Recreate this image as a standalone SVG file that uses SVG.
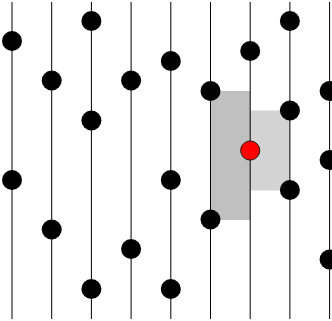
<svg xmlns="http://www.w3.org/2000/svg" width="332" height="321" viewBox="0 0 332 321">
<style>
.ln{stroke:#000;stroke-width:1}
.dot{fill:#000}
.red{fill:#ff0000;stroke:#000;stroke-width:0.8}
</style>
<rect x="210.5" y="91" width="39.7" height="129" fill="#c0c0c0"/>
<rect x="250.2" y="110.5" width="39.7" height="80" fill="#d3d3d3"/>
<g id="connectors">
<line class="ln" x1="12" y1="2" x2="12" y2="319"/>
<line class="ln" x1="51.7" y1="2" x2="51.7" y2="319"/>
<line class="ln" x1="91.4" y1="2" x2="91.4" y2="319"/>
<line class="ln" x1="131.1" y1="2" x2="131.1" y2="319"/>
<line class="ln" x1="170.8" y1="2" x2="170.8" y2="319"/>
<line class="ln" x1="210.5" y1="2" x2="210.5" y2="319"/>
<line class="ln" x1="250.2" y1="2" x2="250.2" y2="319"/>
<line class="ln" x1="289.9" y1="2" x2="289.9" y2="319"/>
<line class="ln" x1="329.6" y1="2" x2="329.6" y2="319"/>
</g>
<g id="n1"><circle class="dot" cx="12" cy="41" r="10"/></g>
<g id="n2"><circle class="dot" cx="12" cy="180" r="10"/></g>
<g id="n3"><circle class="dot" cx="51.7" cy="80.5" r="10"/></g>
<g id="n4"><circle class="dot" cx="51.7" cy="229.5" r="10"/></g>
<g id="n5"><circle class="dot" cx="91.4" cy="21" r="10"/></g>
<g id="n6"><circle class="dot" cx="91.4" cy="120.5" r="10"/></g>
<g id="n7"><circle class="dot" cx="91.4" cy="289" r="10"/></g>
<g id="n8"><circle class="dot" cx="131.1" cy="80.5" r="10"/></g>
<g id="n9"><circle class="dot" cx="131.1" cy="249" r="10"/></g>
<g id="n10"><circle class="dot" cx="170.8" cy="61" r="10"/></g>
<g id="n11"><circle class="dot" cx="170.8" cy="180" r="10"/></g>
<g id="n12"><circle class="dot" cx="170.8" cy="289" r="10"/></g>
<g id="n13"><circle class="dot" cx="210.5" cy="91" r="10"/></g>
<g id="n14"><circle class="dot" cx="210.5" cy="219.5" r="10"/></g>
<g id="n15"><circle class="dot" cx="250.2" cy="51" r="10"/></g>
<g id="n16"><circle class="red" cx="250.2" cy="150.5" r="9.6"/></g>
<g id="n17"><circle class="dot" cx="289.9" cy="21" r="10"/></g>
<g id="n18"><circle class="dot" cx="289.9" cy="110.5" r="10"/></g>
<g id="n19"><circle class="dot" cx="289.9" cy="190" r="10"/></g>
<g id="n20"><circle class="dot" cx="329.6" cy="91" r="10"/></g>
<g id="n21"><circle class="dot" cx="329.6" cy="160" r="10"/></g>
<g id="n22"><circle class="dot" cx="329.6" cy="259.5" r="10"/></g>
</svg>
